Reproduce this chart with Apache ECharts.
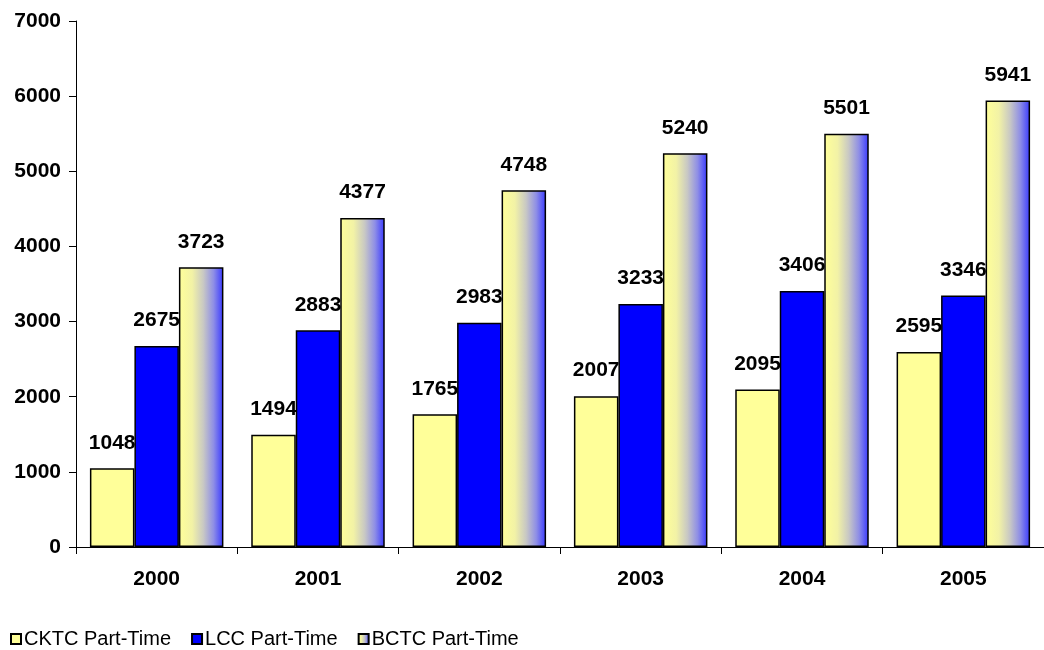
<!DOCTYPE html>
<html>
<head>
<meta charset="utf-8">
<script src="https://cdn.jsdelivr.net/npm/echarts@6/dist/echarts.min.js"></script>
<style>
html,body{margin:0;padding:0;background:#fff;}
#chart{width:1044px;height:650px;}
</style>
</head>
<body>
<div id="chart"></div>
<script>
const years = ['2000', '2001', '2002', '2003', '2004', '2005'];
const cktc = [1048, 1494, 1765, 2007, 2095, 2595];
const lcc = [2675, 2883, 2983, 3233, 3406, 3346];
const bctc = [3723, 4377, 4748, 5240, 5501, 5941];
const seriesNames = ['CKTC Part-Time', 'LCC Part-Time', 'BCTC Part-Time'];
const yMin = 0, yMax = 7000, yStep = 1000;

const FONT = '"Liberation Sans", Arial, sans-serif';
const chart = echarts.init(document.getElementById('chart'), null, {renderer: 'canvas'});

const gradient = new echarts.graphic.LinearGradient(0, 0, 1, 0, [
  {offset: 0, color: '#FFFF99'},
  {offset: 0.3, color: '#F2F2A6'},
  {offset: 0.55, color: '#C8C8C4'},
  {offset: 0.78, color: '#8E8EE6'},
  {offset: 1, color: '#3838FF'}
]);

const labelCfg = {
  show: true,
  position: 'top',
  distance: 15,
  color: '#000',
  fontFamily: FONT,
  fontWeight: 'bold',
  fontSize: 21
};
const border = {borderColor: '#000', borderWidth: 1.5};

chart.setOption({
  animation: false,
  backgroundColor: '#fff',
  textStyle: {fontFamily: FONT},
  grid: {left: 76, right: -10, top: 21, bottom: 103, containLabel: false},
  legend: {
    left: 10,
    top: 629,
    padding: 0,
    itemWidth: 10,
    itemHeight: 10,
    itemGap: 20,
    icon: 'rect',
    textStyle: {fontFamily: FONT, fontSize: 20, color: '#000', padding: [0, 0, 0, -2]},
    data: seriesNames
  },
  xAxis: {
    type: 'category',
    data: years,
    boundaryGap: true,
    axisLine: {lineStyle: {color: '#000', width: 1}},
    axisTick: {show: true, alignWithLabel: false, length: 7, lineStyle: {color: '#000'}},
    axisLabel: {color: '#000', fontFamily: FONT, fontWeight: 'bold', fontSize: 21, margin: 22},
    splitLine: {show: false}
  },
  yAxis: {
    type: 'value',
    min: yMin,
    max: yMax,
    interval: yStep,
    axisLine: {show: true, lineStyle: {color: '#000', width: 1}},
    axisTick: {show: true, length: 7, lineStyle: {color: '#000'}},
    axisLabel: {color: '#000', fontFamily: FONT, fontWeight: 'bold', fontSize: 21, margin: 15,
      formatter: function (v) { return String(v); }},
    splitLine: {show: false}
  },
  series: [
    {
      name: seriesNames[0], type: 'bar', data: cktc, barWidth: 44.5, barGap: '0%',
      itemStyle: Object.assign({color: '#FFFF99'}, border),
      label: labelCfg
    },
    {
      name: seriesNames[1], type: 'bar', data: lcc, barWidth: 44.5, barGap: '0%',
      itemStyle: Object.assign({color: '#0000FF'}, border),
      label: labelCfg
    },
    {
      name: seriesNames[2], type: 'bar', data: bctc, barWidth: 44.5, barGap: '0%',
      itemStyle: Object.assign({color: gradient}, border),
      label: labelCfg
    }
  ]
});
</script>
</body>
</html>
